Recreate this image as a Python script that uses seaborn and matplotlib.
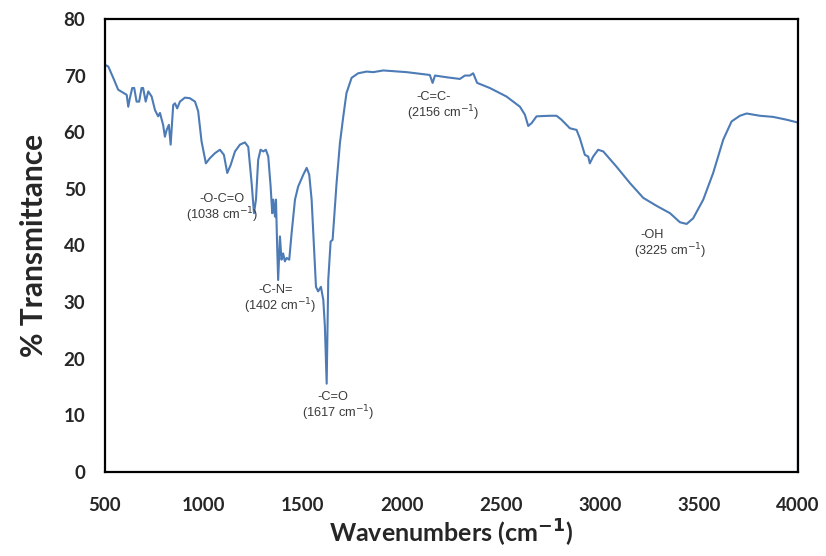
import numpy as np
import pandas as pd
import matplotlib
matplotlib.use("Agg")
import matplotlib.pyplot as plt
import seaborn as sns

# FTIR spectrum
wavenumber = [500, 517, 542, 567, 610, 618, 626, 638, 648, 660, 673, 685, 693, 706,
              719, 736, 753, 769, 778, 794, 803, 812, 823, 832, 845, 854, 865, 879,
              904, 929, 955, 971, 988, 1010, 1030, 1056, 1081, 1101, 1118, 1135, 1157,
              1182, 1207, 1224, 1241, 1253, 1263, 1274, 1286, 1300, 1313, 1325, 1337,
              1345, 1350, 1359, 1364, 1370, 1375, 1384, 1392, 1400, 1409, 1418, 1431,
              1443, 1460, 1476, 1502, 1519, 1532, 1544, 1556, 1566, 1577, 1591, 1603,
              1611, 1620, 1628, 1640, 1650, 1670, 1687, 1704, 1720, 1746, 1779, 1822,
              1855, 1906, 1990, 2024, 2141, 2155, 2167, 2225, 2293, 2318, 2343, 2360,
              2380, 2444, 2528, 2596, 2621, 2638, 2655, 2680, 2747, 2781, 2806, 2848,
              2882, 2899, 2924, 2941, 2949, 2966, 2991, 3017, 3084, 3152, 3219, 3286,
              3354, 3404, 3438, 3471, 3522, 3572, 3623, 3665, 3707, 3741, 3808, 3875,
              3943, 4000, 4000]
transmittance = [71.9, 71.6, 69.6, 67.5, 66.6, 64.5, 66.0, 67.8, 67.8, 65.4, 65.4, 67.8,
                 67.8, 65.4, 67.2, 66.3, 63.9, 62.8, 63.4, 61.3, 59.2, 60.4, 61.3, 57.8,
                 64.8, 65.1, 64.2, 65.4, 66.1, 66.0, 65.4, 63.7, 58.4, 54.5, 55.4, 56.3,
                 56.9, 56.0, 52.8, 54.2, 56.6, 57.8, 58.2, 57.4, 51.0, 45.7, 48.1, 55.1,
                 56.9, 56.6, 56.9, 55.7, 50.4, 45.7, 48.1, 45.1, 48.1, 39.8, 33.9, 41.6,
                 37.5, 38.6, 37.2, 37.8, 37.5, 42.2, 48.1, 50.4, 52.5, 53.7, 52.5, 48.1,
                 39.8, 32.7, 31.9, 32.7, 30.4, 25.7, 15.6, 33.9, 40.7, 41.0, 51.0, 58.1,
                 62.8, 66.9, 69.6, 70.4, 70.7, 70.6, 70.9, 70.7, 70.6, 70.1, 68.7, 70.0,
                 69.7, 69.4, 70.0, 70.0, 70.4, 68.7, 67.8, 66.3, 64.5, 63.1, 61.1, 61.6,
                 62.8, 62.9, 62.9, 62.2, 60.7, 60.4, 58.9, 56.0, 55.7, 54.5, 55.7, 56.9,
                 56.6, 53.9, 51.0, 48.4, 47.0, 45.7, 44.1, 43.8, 44.8, 48.1, 52.8, 58.7,
                 61.9, 62.9, 63.3, 62.9, 62.7, 62.2, 61.7, 0.0]

# peak labels: (group, wavenumber text, label x, label y)
peak_groups = ["-O-C=O", "-C-N=", "-C=O", "-C=C-", "-OH"]
peak_values = ["1038", "1402", "1617", "2156", "3225"]
label_x = [1091, 1362, 1650, 2162, 3262]
label_y = [48.2, 32.2, 13.3, 66.3, 41.9]
label_x2 = [1091, 1384, 1677, 2207, 3354]

x_ticks = [500, 1000, 1500, 2000, 2500, 3000, 3500, 4000]
y_ticks = [0, 10, 20, 30, 40, 50, 60, 70, 80]

df = pd.DataFrame({"wn": wavenumber, "T": transmittance})

sns.set_style("white")
plt.rcParams["font.family"] = ["Lato", "DejaVu Sans"]

fig = plt.figure(figsize=(8.26, 5.56), dpi=100)
ax = fig.add_axes([0.127, 0.151, 0.839, 0.815])

sns.lineplot(data=df, x="wn", y="T", sort=False, estimator=None,
             color="#4d7bb6", linewidth=1.5, ax=ax)

ax.set_xlim(500, 4000)
ax.set_ylim(0, 80)
ax.set_xticks(x_ticks)
ax.set_yticks(y_ticks)
ax.tick_params(axis="both", which="major", direction="out", length=5, width=1,
               color="#8c8c8c", labelsize=13.5, pad=9)
ax.tick_params(axis="x", pad=13)
for lab in ax.get_xticklabels() + ax.get_yticklabels():
    lab.set_fontweight("bold")
for sp in ax.spines.values():
    sp.set_color("black")
    sp.set_linewidth(1.6)

ax.set_xlabel("Wavenumbers (cm$^{\\mathbf{-1}}$)", fontsize=18, fontweight="bold", labelpad=3)
ax.set_ylabel("% Transmittance", fontsize=21.5, fontweight="bold", labelpad=11)

for g, v, x1, y1, x2 in zip(peak_groups, peak_values, label_x, label_y, label_x2):
    ax.text(x1, y1, g, fontsize=9.2, color="#3a3a3a", ha="center", va="center",
            family=["Liberation Sans", "DejaVu Sans"])
    ax.text(x2, y1 - 2.9, f"({v} cm$^{{-1}}$)", fontsize=9.2, color="#3a3a3a",
            ha="center", va="center", family=["Liberation Sans", "DejaVu Sans"])

fig.savefig("out.png", dpi=100)
